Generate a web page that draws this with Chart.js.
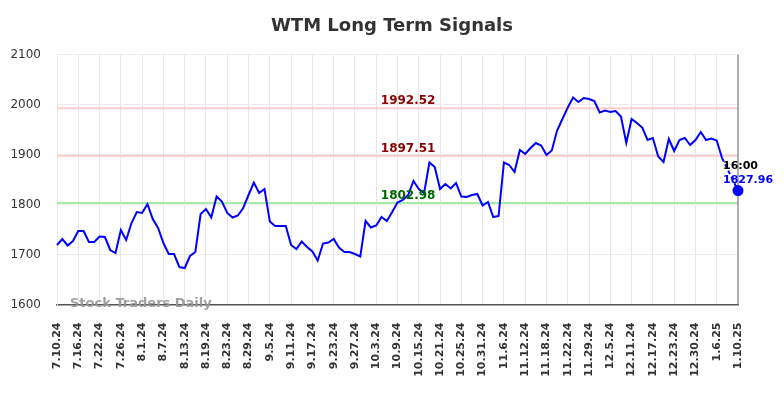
<!DOCTYPE html>
<html>
<head>
<meta charset="utf-8">
<script src="https://cdn.jsdelivr.net/npm/chart.js@4.4.1/dist/chart.umd.min.js"></script>
<style>
  html, body { margin: 0; padding: 0; background: #fff; }
  #wrap { width: 784px; height: 398px; }
</style>
</head>
<body>
<div id="wrap"><canvas id="c" width="784" height="398"></canvas></div>
<script>
const dates = [
  "7.10.24","7.11.24","7.12.24","7.15.24","7.16.24","7.17.24","7.18.24","7.19.24","7.22.24","7.23.24",
  "7.24.24","7.25.24","7.26.24","7.29.24","7.30.24","7.31.24","8.1.24","8.2.24","8.5.24","8.6.24",
  "8.7.24","8.8.24","8.9.24","8.12.24","8.13.24","8.14.24","8.15.24","8.16.24","8.19.24","8.20.24",
  "8.21.24","8.22.24","8.23.24","8.26.24","8.27.24","8.28.24","8.29.24","8.30.24","9.3.24","9.4.24",
  "9.5.24","9.6.24","9.9.24","9.10.24","9.11.24","9.12.24","9.13.24","9.16.24","9.17.24","9.18.24",
  "9.19.24","9.20.24","9.23.24","9.24.24","9.25.24","9.26.24","9.27.24","9.30.24","10.1.24","10.2.24",
  "10.3.24","10.4.24","10.7.24","10.8.24","10.9.24","10.10.24","10.11.24","10.14.24","10.15.24","10.16.24",
  "10.17.24","10.18.24","10.21.24","10.22.24","10.23.24","10.24.24","10.25.24","10.28.24","10.29.24","10.30.24",
  "10.31.24","11.1.24","11.4.24","11.5.24","11.6.24","11.7.24","11.8.24","11.11.24","11.12.24","11.13.24",
  "11.14.24","11.15.24","11.18.24","11.19.24","11.20.24","11.21.24","11.22.24","11.25.24","11.26.24","11.27.24",
  "11.29.24","12.2.24","12.3.24","12.4.24","12.5.24","12.6.24","12.9.24","12.10.24","12.11.24","12.12.24",
  "12.13.24","12.16.24","12.17.24","12.18.24","12.19.24","12.20.24","12.23.24","12.24.24","12.26.24","12.27.24",
  "12.30.24","12.31.24","1.2.25","1.3.25","1.6.25","1.7.25","1.8.25","1.9.25","1.10.25"
];

const prices = [
  1719,1731,1718,1727,1747,1747,1725,1725,1736,1735,
  1709,1703,1749,1729,1763,1785,1783,1801,1771,1753,
  1723,1701,1701,1675,1673,1697,1705,1781,1791,1774,
  1816,1806,1783,1774,1778,1793,1819,1844,1823,1831,
  1766,1757,1757,1757,1719,1711,1726,1715,1706,1688,
  1722,1724,1731,1714,1705,1705,1701,1696,1767,1754,
  1758,1775,1767,1785,1804,1809,1819,1847,1831,1823,
  1884,1875,1831,1841,1832,1843,1816,1815,1819,1821,
  1798,1805,1775,1777,1884,1879,1865,1909,1901,1913,
  1923,1918,1899,1908,1948,1971,1994,2014,2005,2013,
  2011,2007,1984,1988,1985,1987,1976,1923,1971,1963,
  1954,1929,1933,1896,1885,1931,1907,1929,1933,1919,
  1929,1945,1929,1932,1928,1893
];

const lastPrice = 1827.96;
const lastTime = "16:00";
const levelValues = [1992.52, 1897.51, 1802.98];
const levelLineColors = ["#ffcccc", "#ffcccc", "#a6eba6"];
const levelTextColors = ["#8b0000", "#8b0000", "#006400"];
const yTicks = [1600, 1700, 1800, 1900, 2000, 2100];

const solid = dates.map((d, i) => i < prices.length ? prices[i] : null);
const dashed = dates.map((d, i) => {
  if (i === prices.length - 1) return prices[prices.length - 1];
  if (i === dates.length - 1) return lastPrice;
  return null;
});

const overlay = {
  id: 'overlay',
  beforeDatasetsDraw(chart) {
    const { ctx, chartArea, scales } = chart;
    ctx.save();
    levelValues.forEach((v, k) => {
      const y = scales.y.getPixelForValue(v);
      ctx.strokeStyle = levelLineColors[k];
      ctx.lineWidth = 2.2;
      ctx.beginPath();
      ctx.moveTo(chartArea.left, y);
      ctx.lineTo(chartArea.right, y);
      ctx.stroke();
    });
    const xr = scales.x.getPixelForValue(dates.length - 1);
    ctx.strokeStyle = "#999";
    ctx.lineWidth = 1.5;
    ctx.beginPath();
    ctx.moveTo(xr, chartArea.top);
    ctx.lineTo(xr, chartArea.bottom);
    ctx.stroke();
    ctx.restore();
  },
  afterDatasetsDraw(chart) {
    const { ctx, chartArea, scales } = chart;
    ctx.save();
    ctx.font = "bold 12px 'DejaVu Sans'";
    ctx.textAlign = "center";
    ctx.textBaseline = "alphabetic";
    const cx = scales.x.getPixelForValue(66.0);
    levelValues.forEach((v, k) => {
      const y = scales.y.getPixelForValue(v);
      ctx.fillStyle = levelTextColors[k];
      ctx.fillText(v.toFixed(2), cx, y - 4);
    });
    ctx.font = "bold 13px 'DejaVu Sans'";
    ctx.fillStyle = "rgba(150,150,150,0.9)";
    ctx.textAlign = "left";
    ctx.textBaseline = "middle";
    ctx.fillText("Stock Traders Daily", chartArea.left + 13, chartArea.bottom - 1);
    const lx = scales.x.getPixelForValue(dates.length - 1);
    const ly = scales.y.getPixelForValue(lastPrice);
    ctx.font = "bold 11px 'DejaVu Sans'";
    ctx.textAlign = "left";
    ctx.fillStyle = "#000";
    ctx.fillText(lastTime, lx - 15, ly - 24);
    ctx.fillStyle = "#0000ff";
    ctx.fillText(lastPrice.toFixed(2), lx - 15, ly - 10);
    ctx.font = "bold 18px 'DejaVu Sans'";
    ctx.fillStyle = "#333";
    ctx.textAlign = "center";
    ctx.fillText("WTM Long Term Signals", 392, 26);
    ctx.restore();
  }
};

new Chart(document.getElementById('c'), {
  type: 'line',
  data: {
    labels: dates,
    datasets: [
      {
        data: solid,
        borderColor: "#0000ff",
        borderWidth: 2,
        pointRadius: 0,
        tension: 0,
        fill: false
      },
      {
        data: dashed,
        borderColor: "#0000ff",
        borderWidth: 2,
        borderDash: [4, 3],
        spanGaps: true,
        pointRadius: dates.map((d, i) => i === dates.length - 1 ? 4.5 : 0),
        pointBackgroundColor: "#0000ff",
        pointBorderColor: "#0000ff",
        tension: 0,
        fill: false
      }
    ]
  },
  options: {
    responsive: false,
    animation: false,
    events: [],
    layout: { padding: { left: 0, right: 46, top: 54.5, bottom: 0 } },
    plugins: {
      legend: { display: false },
      title: { display: false },
      tooltip: { enabled: false }
    },
    scales: {
      x: {
        type: 'category',
        offset: false,
        afterFit(scale) { scale.height = 93.5; },
        grid: { color: "#e6e6e6", lineWidth: 1, drawTicks: false },
        border: { color: "#555", width: 1.5 },
        ticks: {
          autoSkip: false,
          minRotation: 90,
          maxRotation: 90,
          padding: 18,
          color: "#333",
          font: { family: "'DejaVu Sans'", size: 11, weight: 'bold' },
          callback(value, index) {
            return index % 4 === 0 ? this.getLabelForValue(value) : null;
          }
        }
      },
      y: {
        min: 1600,
        max: 2100,
        afterFit(scale) { scale.width = 57; },
        afterBuildTicks(scale) { scale.ticks = yTicks.map(v => ({ value: v })); },
        grid: { color: "#ececec", lineWidth: 1, drawTicks: false },
        border: { color: "#e6e6e6", width: 1 },
        ticks: {
          padding: 16,
          color: "#333",
          font: { family: "'DejaVu Sans'", size: 12 },
          callback(value) { return String(value); }
        }
      }
    }
  },
  plugins: [overlay]
});
</script>
</body>
</html>
